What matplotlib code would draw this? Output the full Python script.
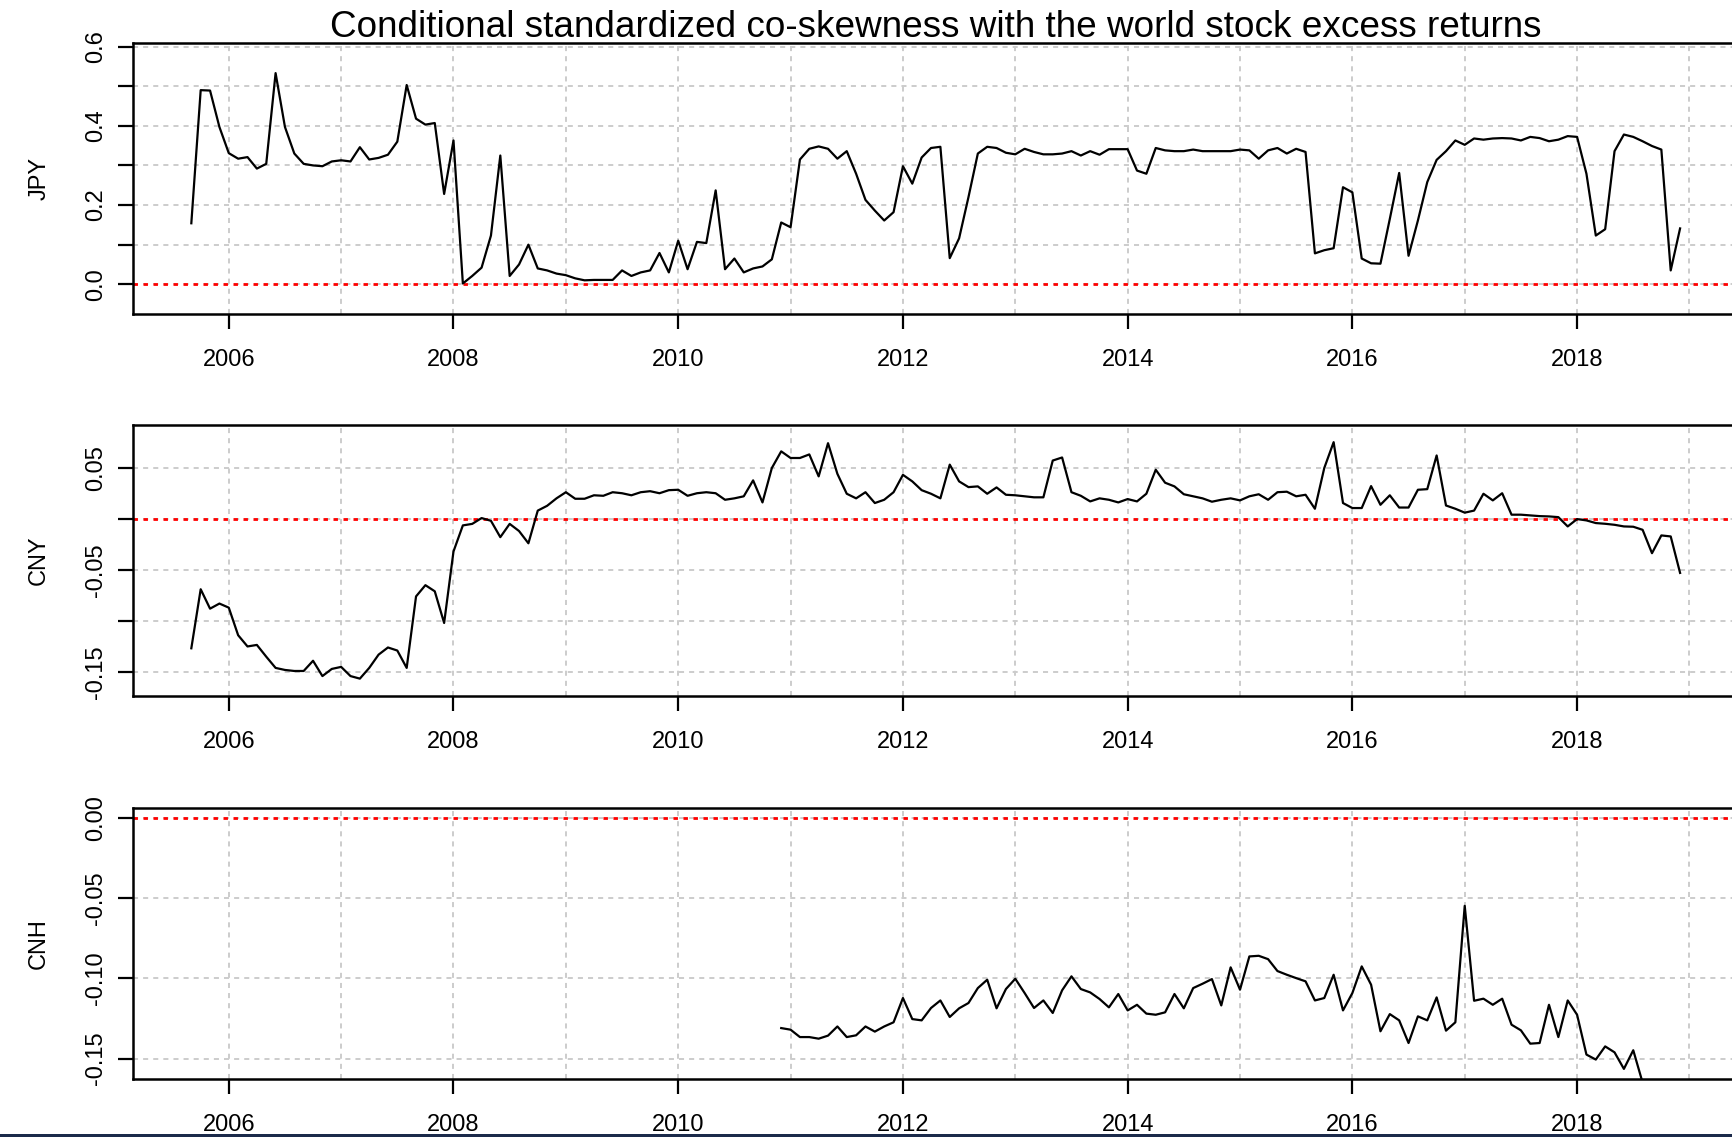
import matplotlib
matplotlib.use('Agg')
import matplotlib.pyplot as plt
from matplotlib.patches import Rectangle

plt.rcParams['font.family'] = ['Liberation Sans', 'DejaVu Sans']

# monthly co-skewness estimates
jpy_start = (2005, 9)
jpy_values = [
    0.154, 0.49, 0.489, 0.397,
    0.331, 0.317, 0.321, 0.292, 0.304, 0.533, 0.397, 0.33, 0.304, 0.30, 0.298, 0.31,
    0.313, 0.31, 0.346, 0.315, 0.319, 0.327, 0.36, 0.503, 0.418, 0.403, 0.407, 0.228,
    0.363, 0.002, 0.021, 0.042, 0.123, 0.325, 0.021, 0.05, 0.10, 0.04, 0.035, 0.027,
    0.023, 0.015, 0.01, 0.011, 0.011, 0.011, 0.035, 0.021, 0.030, 0.035, 0.079, 0.03,
    0.11, 0.038, 0.107, 0.104, 0.237, 0.038, 0.065, 0.03, 0.04, 0.045, 0.063, 0.156,
    0.144, 0.315, 0.342, 0.348, 0.342, 0.317, 0.336, 0.279, 0.213, 0.186, 0.161, 0.182,
    0.298, 0.254, 0.32, 0.344, 0.347, 0.066, 0.116, 0.22, 0.33, 0.347, 0.344, 0.332,
    0.328, 0.342, 0.334, 0.328, 0.328, 0.33, 0.336, 0.325, 0.336, 0.327, 0.341, 0.341,
    0.341, 0.287, 0.279, 0.344, 0.338, 0.336, 0.336, 0.34, 0.336, 0.336, 0.336, 0.336,
    0.34, 0.338, 0.317, 0.338, 0.344, 0.33, 0.342, 0.334, 0.078, 0.086, 0.091, 0.245,
    0.232, 0.065, 0.053, 0.052, 0.165, 0.281, 0.072, 0.161, 0.258, 0.314, 0.336, 0.363,
    0.352, 0.368, 0.365, 0.368, 0.369, 0.368, 0.363, 0.372, 0.369, 0.361, 0.365, 0.374,
    0.372, 0.279, 0.123, 0.139, 0.336, 0.378, 0.372, 0.361, 0.349, 0.34, 0.035, 0.141,
]

cny_start = (2005, 9)
cny_values = [
    -0.1268, -0.069, -0.088, -0.083,
    -0.087, -0.114, -0.125, -0.1235, -0.135, -0.146, -0.148, -0.149, -0.149, -0.139, -0.154, -0.147,
    -0.145, -0.154, -0.1565, -0.146, -0.133, -0.126, -0.129, -0.146, -0.076, -0.065, -0.071, -0.102,
    -0.032, -0.0065, -0.005, 0.0007, -0.002, -0.018, -0.005, -0.012, -0.024, 0.008, 0.0127, 0.020,
    0.026, 0.0196, 0.0196, 0.023, 0.0225, 0.026, 0.025, 0.023, 0.026, 0.027, 0.025, 0.028,
    0.0284, 0.0225, 0.025, 0.026, 0.025, 0.0186, 0.020, 0.022, 0.0376, 0.016, 0.0497, 0.066,
    0.0595, 0.0595, 0.063, 0.0415, 0.074, 0.044, 0.0245, 0.020, 0.026, 0.0154, 0.0186, 0.026,
    0.043, 0.0366, 0.028, 0.0245, 0.020, 0.053, 0.0366, 0.031, 0.0317, 0.0245, 0.0307, 0.0235,
    0.023, 0.022, 0.021, 0.021, 0.057, 0.060, 0.026, 0.0225, 0.017, 0.020, 0.0186, 0.016,
    0.0193, 0.017, 0.0245, 0.048, 0.0353, 0.0317, 0.024, 0.022, 0.020, 0.0167, 0.0186, 0.020,
    0.018, 0.022, 0.024, 0.0186, 0.026, 0.0265, 0.022, 0.0235, 0.0098, 0.0497, 0.075, 0.0154,
    0.0105, 0.0105, 0.032, 0.0137, 0.023, 0.011, 0.011, 0.0284, 0.029, 0.062, 0.013, 0.0098,
    0.006, 0.008, 0.0245, 0.018, 0.025, 0.004, 0.004, 0.0033, 0.0026, 0.0023, 0.0016, -0.0075,
    -0.0003, -0.0016, -0.0042, -0.0049, -0.0059, -0.0075, -0.0078, -0.0108, -0.0337, -0.0163, -0.0173, -0.053,
]

cnh_start = (2010, 12)
cnh_values = [
    -0.131,
    -0.132, -0.1366, -0.1366, -0.1376, -0.1357, -0.130, -0.1366, -0.1355, -0.130, -0.1332, -0.130, -0.1274,
    -0.1123, -0.1254, -0.1262, -0.1185, -0.1138, -0.1241, -0.1187, -0.1154, -0.1061, -0.1009, -0.1187, -0.1067,
    -0.1003, -0.1092, -0.1185, -0.1138, -0.1216, -0.1075, -0.0988, -0.1067, -0.1088, -0.1129, -0.1181, -0.1098,
    -0.12, -0.1165, -0.122, -0.1227, -0.1212, -0.1098, -0.1187, -0.1061, -0.1034, -0.1005, -0.1169, -0.0932,
    -0.1071, -0.0864, -0.086, -0.0881, -0.0955, -0.0978, -0.0999, -0.1019, -0.1138, -0.1123, -0.0978, -0.12,
    -0.1092, -0.0926, -0.104, -0.133, -0.1223, -0.1262, -0.1403, -0.1237, -0.1262, -0.1119, -0.1326, -0.1274,
    -0.0549, -0.114, -0.1127, -0.1165, -0.1127, -0.1289, -0.1324, -0.1407, -0.1403, -0.1165, -0.1366, -0.1138,
    -0.1227, -0.1475, -0.1506, -0.1424, -0.1461, -0.1564, -0.1448, -0.165,
]

panels = [
    ('JPY', jpy_start, jpy_values, (-0.075, 0.609),
     [0.0, 0.1, 0.2, 0.3, 0.4, 0.5, 0.6], ['0.0', '', '0.2', '', '0.4', '', '0.6']),
    ('CNY', cny_start, cny_values, (-0.1735, 0.0918),
     [-0.15, -0.10, -0.05, 0.0, 0.05], ['-0.15', '', '-0.05', '', '0.05']),
    ('CNH', cnh_start, cnh_values, (-0.1627, 0.006),
     [-0.15, -0.10, -0.05, 0.0], ['-0.15', '-0.10', '-0.05', '0.00']),
]

year_ticks = [2006, 2008, 2010, 2012, 2014, 2016, 2018]
grid_years = list(range(2006, 2020))
xlim = (2005.144, 2019.45)


def to_years(start, n):
    y, m = start
    return [y + (m - 1 + i) / 12 for i in range(n)]


W, H = 1733, 1137
fig = plt.figure(figsize=(W / 100, H / 100), dpi=100)

left_px = 132.6
width_px = 1607.4
tops = [43, 425, 808]
h_px = 271
fs = 17

for (name, start, vals, ylim, yt, ytl), top in zip(panels, tops):
    ax = fig.add_axes([left_px / W, 1 - (top + h_px) / H, width_px / W, h_px / H])
    ax.set_xlim(*xlim)
    ax.set_ylim(*ylim)

    # dashed grid at every year and every y tick
    for gx in grid_years:
        ax.axvline(gx, color='#cccccc', lw=1.4, ls=(0, (2.6, 2.6)), zorder=1)
    for gy in yt:
        ax.axhline(gy, color='#cccccc', lw=1.4, ls=(0, (2.6, 2.6)), zorder=1)

    ax.axhline(0, color='red', lw=2.0, ls=(0, (1.6, 2.0)), zorder=2)
    ax.plot(to_years(start, len(vals)), vals, color='black', lw=1.6, zorder=3)

    ax.set_xticks(year_ticks)
    ax.set_xticklabels([str(y) for y in year_ticks])
    ax.set_yticks(yt)
    ax.set_yticklabels(ytl, rotation=90, va='center')
    ax.tick_params(axis='both', direction='out', length=10.5, width=1.6,
                   labelsize=fs, colors='black')
    ax.tick_params(axis='x', pad=15)
    ax.tick_params(axis='y', pad=8)
    for s in ax.spines.values():
        s.set_linewidth(1.8)
    ax.set_ylabel(name, fontsize=fs, labelpad=25)

fig.text(936 / W, 1 - 37 / H, 'Conditional standardized co-skewness with the world stock excess returns',
         ha='center', va='baseline', fontsize=26.6)

# thin dark band along the bottom edge
fig.add_artist(Rectangle((0, 0), 1, 3.5 / H, transform=fig.transFigure,
                         facecolor='#1b2a4a', edgecolor='none'))

fig.savefig('out.png', dpi=100)
